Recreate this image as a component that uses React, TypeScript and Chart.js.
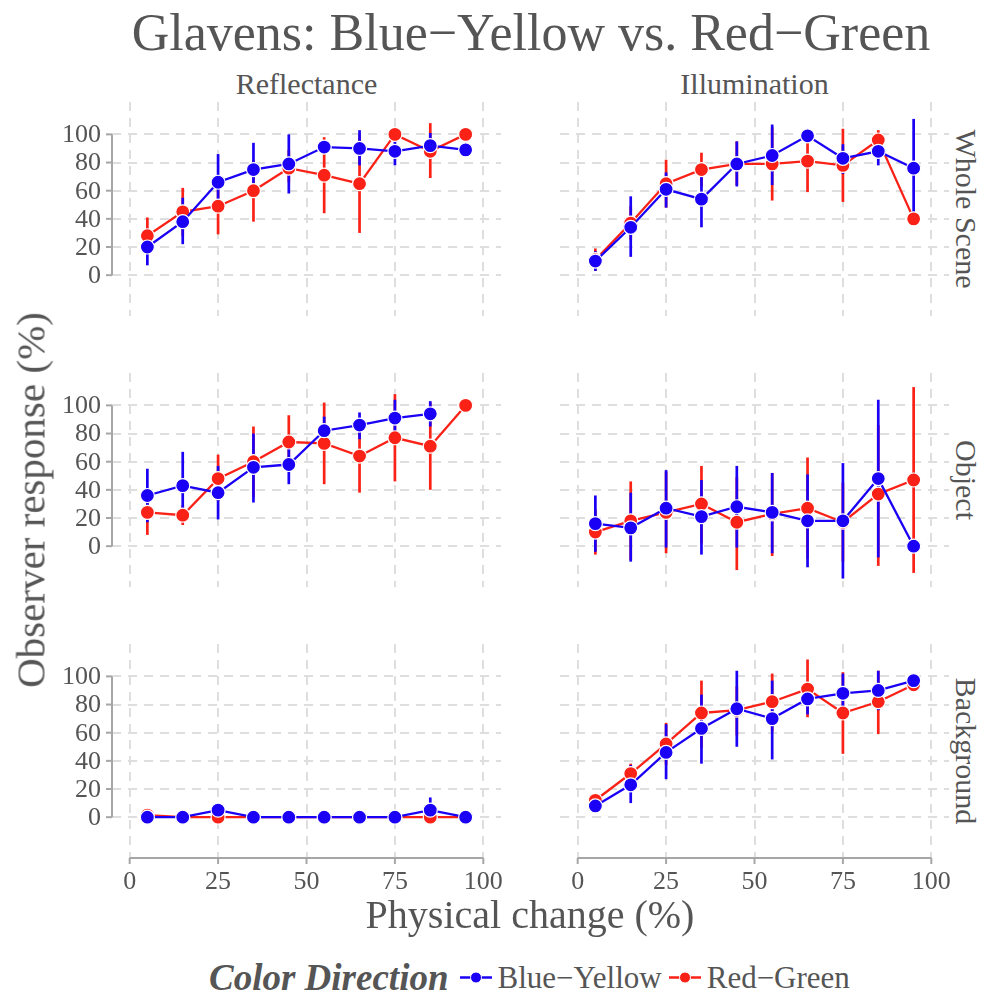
import React, { useEffect, useRef } from "react";
import { Chart, registerables } from "chart.js";

Chart.register(...registerables);

// ---------- data ----------
const X_VALUES = [5, 15, 25, 35, 45, 55, 65, 75, 85, 95];
const X_TICKS = [0, 25, 50, 75, 100];
const Y_TICKS = [0, 20, 40, 60, 80, 100];
const ROW_LABELS = ["Whole Scene", "Object", "Background"];
const COL_LABELS = ["Reflectance", "Illumination"];
const SERIES_LABELS = ["Blue−Yellow", "Red−Green"];

// Whole Scene – Reflectance
const wsReflBY = [20, 38, 66, 75, 79, 91, 90, 88, 92, 89];
const wsReflBYLo = [7, 22, 46, 56, 58, 91, 78, 78, 83, 89];
const wsReflBYHi = [33, 55, 86, 94, 100, 91, 103, 98, 101, 89];
const wsReflRG = [28, 45, 49, 60, 76, 71, 65, 100, 88, 100];
const wsReflRGLo = [15, 28, 29, 38, 66, 44, 30, 100, 69, 100];
const wsReflRGHi = [41, 62, 69, 82, 89, 98, 100, 100, 108, 100];

// Whole Scene – Illumination
const wsIllBY = [10, 34, 61, 54, 79, 85, 99, 83, 88, 76];
const wsIllBYLo = [3, 13, 48, 34, 63, 64, 99, 72, 78, 40];
const wsIllBYHi = [17, 56, 73, 74, 95, 107, 99, 93, 97, 111];
const wsIllRG = [11, 37, 65, 75, 79, 79, 81, 78, 96, 40];
const wsIllRGLo = [3, 25, 48, 63, 64, 53, 59, 52, 89, 40];
const wsIllRGHi = [19, 49, 82, 87, 95, 105, 103, 104, 103, 40];

// Object – Reflectance
const obReflBY = [36, 43, 38, 56, 58, 82, 86, 91, 94, null];
const obReflBYLo = [17, 19, 19, 31, 44, 72, 76, 79, 85, null];
const obReflBYHi = [55, 67, 57, 80, 72, 92, 95, 104, 103, null];
const obReflRG = [24, 22, 48, 60, 74, 73, 64, 77, 71, 100];
const obReflRGLo = [8, 15, 32, 35, 57, 44, 38, 46, 40, 100];
const obReflRGHi = [39, 29, 65, 85, 93, 102, 90, 108, 102, 100];

// Object – Illumination
const obIllBY = [16, 13, 27, 21, 28, 24, 18, 18, 48, 0];
const obIllBYLo = [-4, -11, -1, -6, -1, -5, -15, -23, -8, 0];
const obIllBYHi = [36, 38, 54, 47, 57, 52, 51, 59, 104, 0];
const obIllRG = [10, 18, 24, 30, 17, 23, 27, 17, 37, 47];
const obIllRGLo = [-6, -10, -5, 2, -17, -7, -9, -11, -14, -19];
const obIllRGHi = [26, 46, 53, 57, 49, 52, 63, 45, 86, 113];

// Background – Reflectance
const bgReflBY = [0, 0, 5, 0, 0, 0, 0, 0, 5, 0];
const bgReflBYLo = [0, 0, 0, 0, 0, 0, 0, 0, -4, 0];
const bgReflBYHi = [0, 0, 10, 0, 0, 0, 0, 0, 14, 0];
const bgReflRG = [1.5, 0, 0, 0, 0, 0, 0, 0, 0, 0];
const bgReflRGLo = [1.5, 0, 0, 0, 0, 0, 0, 0, 0, 0];
const bgReflRGHi = [1.5, 0, 0, 0, 0, 0, 0, 0, 0, 0];

// Background – Illumination
const bgIllBY = [8, 23, 46, 63, 77, 70, 84, 88, 90, 97];
const bgIllBYLo = [8, 10, 27, 38, 50, 41, 73, 74, 76, 97];
const bgIllBYHi = [8, 37, 66, 87, 104, 97, 95, 102, 104, 97];
const bgIllRG = [12, 31, 52, 74, 76, 82, 91, 74, 82, 94];
const bgIllRGLo = [12, 24, 37, 49, 58, 61, 71, 45, 59, 94];
const bgIllRGHi = [12, 38, 67, 97, 93, 102, 112, 103, 104, 94];

// ---------- styling ----------
const BLUE = "#1a00f5";
const RED = "#fa2117";
const TEXT = "#555555";
const FONT = '"Liberation Serif", serif';
const X_MIN = -5, X_MAX = 105, Y_MIN = -29, Y_MAX = 123;
const COL_LEFT = [112, 560];
const ROW_TOP = [102, 373, 644];
const PANEL_W = 389;
const PANEL_H = 214;
const PAD = { left: 80, top: 10, right: 10, bottom: 50 };

type Panel = {
  by: (number | null)[]; byLo: (number | null)[]; byHi: (number | null)[];
  rg: (number | null)[]; rgLo: (number | null)[]; rgHi: (number | null)[];
};

const PANELS: Panel[][] = [
  [
    { by: wsReflBY, byLo: wsReflBYLo, byHi: wsReflBYHi, rg: wsReflRG, rgLo: wsReflRGLo, rgHi: wsReflRGHi },
    { by: wsIllBY, byLo: wsIllBYLo, byHi: wsIllBYHi, rg: wsIllRG, rgLo: wsIllRGLo, rgHi: wsIllRGHi },
  ],
  [
    { by: obReflBY, byLo: obReflBYLo, byHi: obReflBYHi, rg: obReflRG, rgLo: obReflRGLo, rgHi: obReflRGHi },
    { by: obIllBY, byLo: obIllBYLo, byHi: obIllBYHi, rg: obIllRG, rgLo: obIllRGLo, rgHi: obIllRGHi },
  ],
  [
    { by: bgReflBY, byLo: bgReflBYLo, byHi: bgReflBYHi, rg: bgReflRG, rgLo: bgReflRGLo, rgHi: bgReflRGHi },
    { by: bgIllBY, byLo: bgIllBYLo, byHi: bgIllBYHi, rg: bgIllRG, rgLo: bgIllRGLo, rgHi: bgIllRGHi },
  ],
];

const errorBarPlugin = {
  id: "errorBars",
  beforeDatasetsDraw(chart: any) {
    const { ctx } = chart;
    const xs = chart.scales.x;
    const ys = chart.scales.y;
    const sets = chart.data.datasets;
    ctx.save();
    for (let d = sets.length - 1; d >= 0; d--) {
      const ds = sets[d];
      ctx.strokeStyle = ds.borderColor;
      ctx.lineWidth = 2.7;
      ctx.lineCap = "butt";
      ds.data.forEach((pt: any, i: number) => {
        const lo = ds.lo[i];
        const hi = ds.hi[i];
        if (lo == null || hi == null || lo === hi) return;
        const px = xs.getPixelForValue(pt.x);
        ctx.beginPath();
        ctx.moveTo(px, ys.getPixelForValue(lo));
        ctx.lineTo(px, ys.getPixelForValue(hi));
        ctx.stroke();
      });
    }
    ctx.restore();
  },
};

const axesPlugin = {
  id: "panelAxes",
  afterDraw(chart: any, _args: any, opts: any) {
    const { ctx, chartArea } = chart;
    const xs = chart.scales.x;
    const ys = chart.scales.y;
    ctx.save();
    ctx.strokeStyle = "#a6a6a6";
    ctx.lineWidth = 2;
    ctx.fillStyle = TEXT;
    ctx.font = `26px ${FONT}`;
    if (opts.showY) {
      const x0 = chartArea.left;
      ctx.beginPath();
      ctx.moveTo(x0, ys.getPixelForValue(Y_TICKS[0]));
      ctx.lineTo(x0, ys.getPixelForValue(Y_TICKS[Y_TICKS.length - 1]));
      ctx.stroke();
      ctx.textAlign = "right";
      ctx.textBaseline = "middle";
      Y_TICKS.forEach((v) => {
        const py = ys.getPixelForValue(v);
        ctx.beginPath();
        ctx.moveTo(x0 - 6, py);
        ctx.lineTo(x0, py);
        ctx.stroke();
        ctx.fillText(String(v), x0 - 11, py + 1);
      });
    }
    if (opts.showX) {
      const y0 = chartArea.bottom;
      ctx.beginPath();
      ctx.moveTo(xs.getPixelForValue(X_TICKS[0]), y0);
      ctx.lineTo(xs.getPixelForValue(X_TICKS[X_TICKS.length - 1]), y0);
      ctx.stroke();
      ctx.textAlign = "center";
      ctx.textBaseline = "middle";
      X_TICKS.forEach((v) => {
        const px = xs.getPixelForValue(v);
        ctx.beginPath();
        ctx.moveTo(px, y0);
        ctx.lineTo(px, y0 + 6);
        ctx.stroke();
        ctx.fillText(String(v), px, y0 + 24);
      });
    }
    ctx.restore();
  },
};

function PanelChart({ row, col }: { row: number; col: number }) {
  const ref = useRef<HTMLCanvasElement | null>(null);
  useEffect(() => {
    const p = PANELS[row][col];
    const mk = (vals: (number | null)[]) => X_VALUES.map((x, i) => ({ x, y: vals[i] }));
    const common = {
      borderWidth: 2.3,
      pointRadius: 7,
      pointBorderColor: "#ffffff",
      pointBorderWidth: 1.2,
      pointHoverRadius: 7,
      spanGaps: false,
      tension: 0,
    };
    const grid = { color: "#dedede", lineWidth: 2, drawTicks: false };
    const border = { display: false, dash: [9, 7] };
    const chart = new Chart(ref.current as HTMLCanvasElement, {
      type: "line",
      data: {
        datasets: [
          {
            ...common,
            label: SERIES_LABELS[0],
            data: mk(p.by),
            lo: p.byLo,
            hi: p.byHi,
            borderColor: BLUE,
            backgroundColor: BLUE,
            pointBackgroundColor: BLUE,
          } as any,
          {
            ...common,
            label: SERIES_LABELS[1],
            data: mk(p.rg),
            lo: p.rgLo,
            hi: p.rgHi,
            borderColor: RED,
            backgroundColor: RED,
            pointBackgroundColor: RED,
          } as any,
        ],
      },
      options: {
        responsive: false,
        animation: false,
        events: [],
        layout: { padding: PAD },
        scales: {
          x: {
            type: "linear",
            min: X_MIN,
            max: X_MAX,
            afterBuildTicks: (s: any) => { s.ticks = X_TICKS.map((value) => ({ value })); },
            ticks: { display: false },
            grid,
            border,
          },
          y: {
            type: "linear",
            min: Y_MIN,
            max: Y_MAX,
            afterBuildTicks: (s: any) => { s.ticks = Y_TICKS.map((value) => ({ value })); },
            ticks: { display: false },
            grid,
            border,
          },
        },
        plugins: {
          legend: { display: false },
          tooltip: { enabled: false },
          panelAxes: { showY: col === 0, showX: row === 2 },
        } as any,
      },
      plugins: [errorBarPlugin, axesPlugin],
    });
    return () => chart.destroy();
  }, [row, col]);
  return (
    <canvas
      ref={ref}
      width={PANEL_W + PAD.left + PAD.right}
      height={PANEL_H + PAD.top + PAD.bottom}
      style={{
        position: "absolute",
        left: COL_LEFT[col] - PAD.left,
        top: ROW_TOP[row] - PAD.top,
        width: PANEL_W + PAD.left + PAD.right,
        height: PANEL_H + PAD.top + PAD.bottom,
      }}
    />
  );
}

function LegendKey({ color }: { color: string }) {
  return (
    <svg width="34" height="20" style={{ display: "block" }}>
      <line x1="1" y1="10" x2="33" y2="10" stroke={color} strokeWidth="2.4" />
      <circle cx="17" cy="10" r="5.5" fill={color} stroke="#fff" strokeWidth="1" />
    </svg>
  );
}

export default function App() {
  const abs = (extra: React.CSSProperties): React.CSSProperties => ({
    position: "absolute",
    whiteSpace: "nowrap",
    lineHeight: 1,
    color: TEXT,
    fontFamily: FONT,
    ...extra,
  });
  return (
    <div style={{ position: "absolute", left: 0, top: 0, width: 984, height: 996, background: "#fff", overflow: "hidden" }}>
      <div style={abs({ left: 531, top: 7, fontSize: 52, transform: "translateX(-50%)" })}>
        Glavens: Blue−Yellow vs. Red−Green
      </div>
      {COL_LABELS.map((t, c) => (
        <div key={t} style={abs({ left: COL_LEFT[c] + PANEL_W / 2, top: 69, fontSize: 30, transform: "translateX(-50%)" })}>
          {t}
        </div>
      ))}
      {ROW_LABELS.map((t, r) => (
        <div
          key={t}
          style={abs({
            left: 966,
            top: ROW_TOP[r] + PANEL_H / 2,
            fontSize: 30,
            writingMode: "vertical-rl",
            transform: "translate(-50%, -50%)",
          })}
        >
          {t}
        </div>
      ))}
      {ROW_LABELS.map((_, r) =>
        COL_LABELS.map((__, c) => <PanelChart key={`${r}-${c}`} row={r} col={c} />)
      )}
      <div style={abs({ left: 31, top: 500, fontSize: 41, transform: "translate(-50%, -50%) rotate(-90deg)" })}>
        Observer response (%)
      </div>
      <div style={abs({ left: 530, top: 915, fontSize: 40, transform: "translate(-50%, -50%)" })}>
        Physical change (%)
      </div>
      <div style={abs({ left: 209, top: 977, transform: "translateY(-50%)", display: "flex", alignItems: "center" })}>
        <span style={{ fontSize: 37, fontWeight: "bold", fontStyle: "italic", marginRight: 10 }}>Color Direction</span>
        <LegendKey color={BLUE} />
        <span style={{ fontSize: 31, marginLeft: 5, marginRight: 6 }}>{SERIES_LABELS[0]}</span>
        <LegendKey color={RED} />
        <span style={{ fontSize: 31, marginLeft: 5 }}>{SERIES_LABELS[1]}</span>
      </div>
    </div>
  );
}
